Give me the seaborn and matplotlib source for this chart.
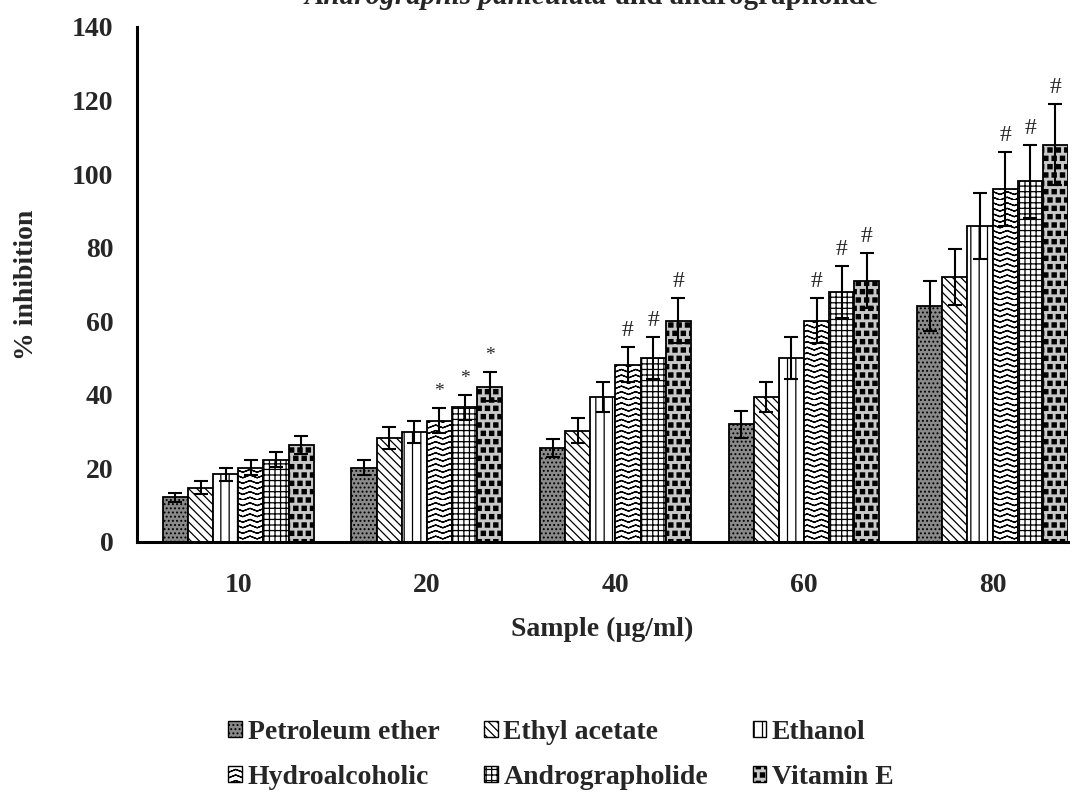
import warnings
warnings.filterwarnings("ignore")
import numpy as np
import pandas as pd
import matplotlib
matplotlib.use("Agg")
import matplotlib.pyplot as plt
import matplotlib.hatch as mhatch
import matplotlib.patches as mpatches
from matplotlib.path import Path
import seaborn as sns

# ---------------- data ----------------
concentrations = ["10", "20", "40", "60", "80"]
solvents = ["Petroleum ether", "Ethyl acetate", "Ethanol",
            "Hydroalcoholic", "Andrographolide", "Vitamin E"]
petroleum_ether = [12.2, 20.2, 25.5, 32.0, 64.2]
ethyl_acetate = [14.8, 28.2, 30.2, 39.4, 72.0]
ethanol = [18.4, 30.0, 39.4, 50.0, 86.0]
hydroalcoholic = [20.2, 33.0, 48.2, 60.2, 96.0]
andrographolide = [22.4, 36.6, 50.0, 68.0, 98.0]
vitamin_e = [26.4, 42.2, 60.2, 71.0, 108.0]
sd_petroleum_ether = [1.2, 2.0, 2.4, 3.6, 6.8]
sd_ethyl_acetate = [1.8, 3.0, 3.4, 4.1, 7.6]
sd_ethanol = [1.8, 3.0, 4.0, 5.6, 9.0]
sd_hydroalcoholic = [2.0, 3.5, 4.8, 6.0, 10.0]
sd_andrographolide = [2.0, 3.4, 5.8, 7.0, 10.0]
sd_vitamin_e = [2.5, 4.0, 6.0, 7.5, 11.0]
sig_hydroalcoholic = ["", "*", "#", "#", "#"]
sig_andrographolide = ["", "*", "#", "#", "#"]
sig_vitamin_e = ["", "*", "#", "#", "#"]

values = [petroleum_ether, ethyl_acetate, ethanol, hydroalcoholic, andrographolide, vitamin_e]
sds = [sd_petroleum_ether, sd_ethyl_acetate, sd_ethanol, sd_hydroalcoholic,
       sd_andrographolide, sd_vitamin_e]
sigs = [[""] * 5, [""] * 5, [""] * 5, sig_hydroalcoholic, sig_andrographolide, sig_vitamin_e]

rows = []
for s, vals in zip(solvents, values):
    for c, v in zip(concentrations, vals):
        rows.append({"conc": c, "solvent": s, "value": v})
df = pd.DataFrame(rows)

# ---------------- custom hatches ----------------
class ZigZagHatch(mhatch.HatchPatternBase):
    """Zigzag lines; each row is traced forward and back so it encloses no area."""
    def __init__(self, hatch, density):
        self.num_rows = int(hatch.count('z') * density)
        self.n_pts = 15
        self.num_vertices = self.num_rows * self.n_pts * 2

    def set_vertices_and_codes(self, vertices, codes):
        xs = np.linspace(0, 1, self.n_pts)
        step = 1.0 / self.num_rows
        amp = 0.5 * step
        zig = np.where(np.arange(self.n_pts) % 2 == 0, 0.0, amp)
        parts = []
        for r in range(self.num_rows):
            fwd = np.column_stack([xs, r * step + zig])
            parts.append(np.concatenate([fwd, fwd[::-1]]))
        vertices[:] = np.concatenate(parts)
        c = np.full(self.n_pts * 2, Path.LINETO, dtype=codes.dtype)
        c[0] = Path.MOVETO
        codes[:] = np.tile(c, self.num_rows)


class FilledSquares(mhatch.Shapes):
    size = 0.5
    filled = True

    def __init__(self, hatch, density):
        self.num_rows = int(hatch.count('s') * density)
        path = Path.unit_rectangle()
        self.shape_vertices = (path.vertices - 0.5) * 1.0
        self.shape_codes = path.codes
        super().__init__(hatch, density)


mhatch._hatch_types.append(ZigZagHatch)
mhatch._hatch_types.append(FilledSquares)

# ---------------- styling ----------------
sns.set_theme(style="white")
plt.rcParams['font.family'] = ['Liberation Serif', 'DejaVu Serif']
plt.rcParams['font.weight'] = 'bold'
plt.rcParams['hatch.linewidth'] = 0.9

styles = [
    dict(facecolor="#8a8a8a", hatch="...."),
    dict(facecolor="white", hatch="\\\\\\\\"),
    dict(facecolor="white", hatch="||"),
    dict(facecolor="white", hatch="zzz"),
    dict(facecolor="white", hatch="+++"),
    dict(facecolor="#c8c8c8", hatch="ss.."),
]

fig = plt.figure(figsize=(10.77, 7.94), dpi=100)
ax = fig.add_axes([0.1272, 0.3174, 0.8644, 0.6486])

sns.barplot(data=df, x="conc", y="value", hue="solvent", order=concentrations,
            hue_order=solvents, errorbar=None, width=0.8, color="white",
            edgecolor="black", linewidth=1.3, legend=False, ax=ax)

bar_containers = list(ax.containers)
for i, cont in enumerate(bar_containers):
    st = styles[i]
    xs, ys = [], []
    for bar in cont:
        bar.set_facecolor(st["facecolor"])
        bar.set_hatch(st["hatch"])
        bar.set_edgecolor("black")
        xs.append(bar.get_x() + bar.get_width() / 2)
        ys.append(bar.get_height())
    ax.errorbar(xs, ys, yerr=sds[i], fmt="none", ecolor="black",
                elinewidth=1.5, capsize=5, capthick=1.5, zorder=5)
    for x, y, e, m in zip(xs, ys, sds[i], sigs[i]):
        if m:
            fs = 17 if m == "#" else 14
            ax.annotate(m, (x, y + e), xytext=(0, 12), textcoords="offset points",
                        ha="center", va="center", fontsize=fs, fontweight="normal")

ax.set_ylim(0, 140)
ax.set_xlim(-0.537, 4.40)
ax.set_yticks(np.arange(0, 141, 20))
ax.set_xticks(range(len(concentrations)))
ax.set_xticklabels(concentrations)
ax.set_xticks([0.5, 1.5, 2.5, 3.5], minor=True)
ax.tick_params(axis="x", which="major", length=0, pad=22, labelsize=20)
ax.tick_params(axis="x", which="minor", length=7, width=2.5, direction="out", color="black")
ax.tick_params(axis="y", which="major", length=7, width=2, direction="out",
               color="black", pad=10, labelsize=20)
for side in ["top", "right"]:
    ax.spines[side].set_visible(False)
for side in ["left", "bottom"]:
    ax.spines[side].set_linewidth(2.2)
    ax.spines[side].set_color("black")

ax.set_xlabel("Sample (µg/ml)", fontsize=20, fontweight="bold", labelpad=14)
ax.set_ylabel("% inhibition", fontsize=20, fontweight="bold", labelpad=24)

# legend (row-wise order arranged for column-major filling)
handles = [mpatches.Patch(facecolor=styles[i]["facecolor"], hatch=styles[i]["hatch"],
                          edgecolor="black", linewidth=1.0) for i in range(6)]
order = [0, 3, 1, 4, 2, 5]
fig.legend([handles[i] for i in order], [solvents[i] for i in order], ncol=3,
           loc="upper left", bbox_to_anchor=(0.212, 0.093), frameon=False,
           fontsize=20, handlelength=0.5, handleheight=0.5, handletextpad=0.2,
           columnspacing=1.6, labelspacing=0.72, borderpad=0, borderaxespad=0)

# title (clipped at top as in the reference)
ty = 1 - 4 / 794
t1 = fig.text(0, ty, "Andrographis paniculata", fontsize=21, fontweight="bold",
              fontstyle="italic", va="baseline", ha="left")
t2 = fig.text(0, ty, " and andrographolide", fontsize=21, fontweight="bold",
              va="baseline", ha="left")
r = fig.canvas.get_renderer()
w1 = t1.get_window_extent(r).width / fig.bbox.width
w2 = t2.get_window_extent(r).width / fig.bbox.width
start = 591 / 1077 - (w1 + w2) / 2
t1.set_x(start)
t2.set_x(start + w1)

fig.savefig("out.png", dpi=100)
